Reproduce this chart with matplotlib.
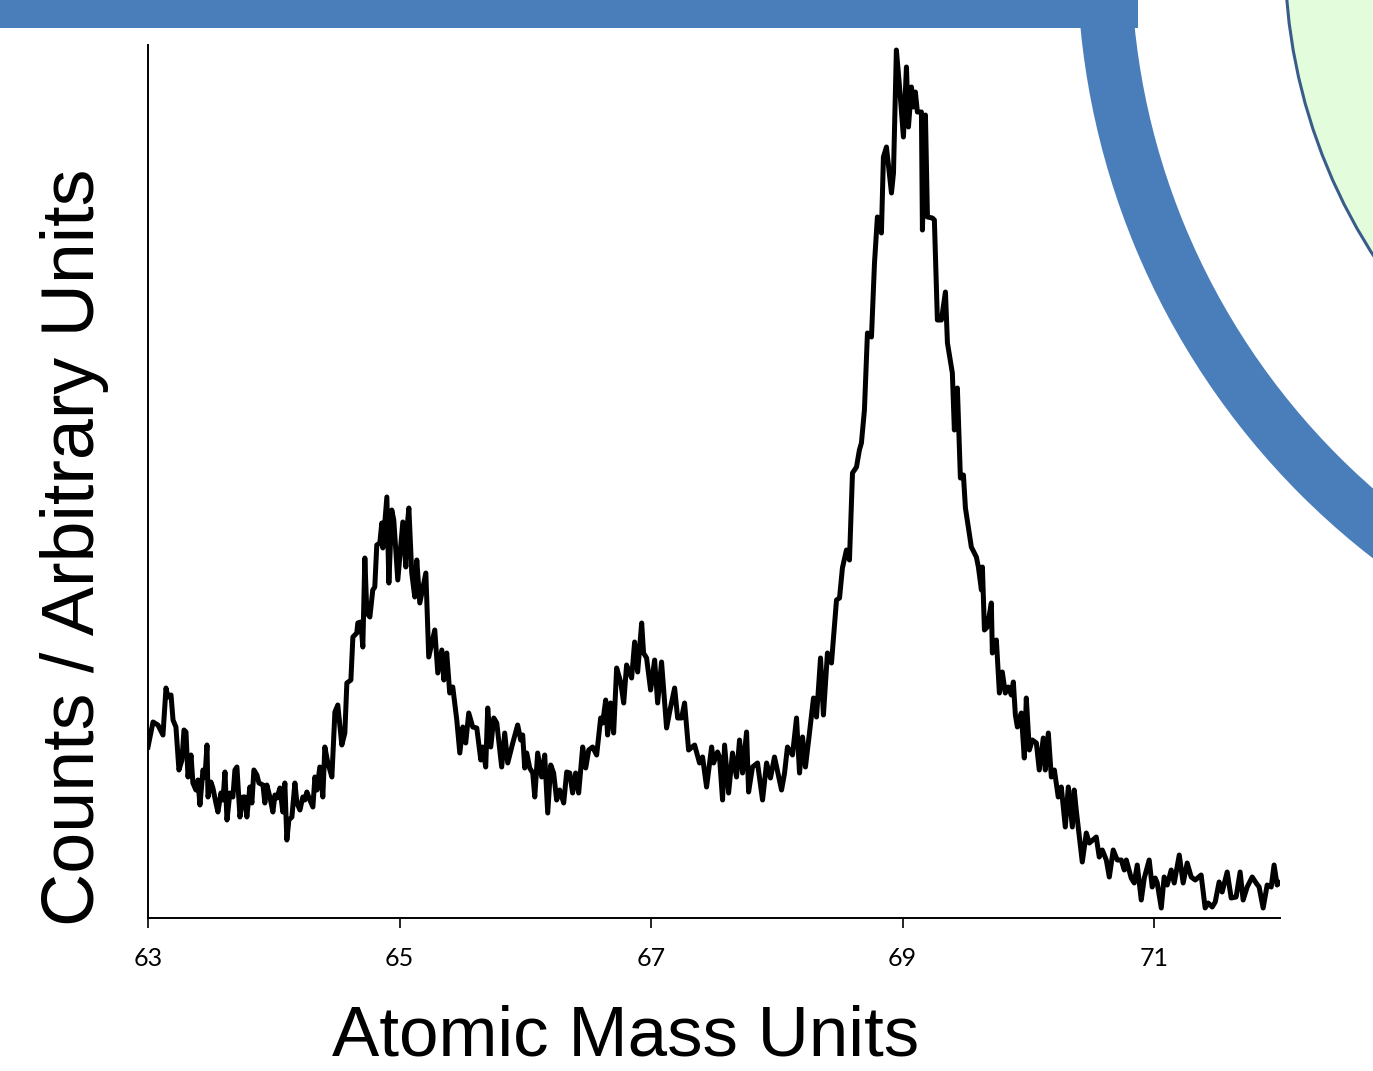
"""
Mass spectrum slide: counts vs atomic mass units, with the slide's blue
banner / arc decoration drawn behind the plot.
"""

import matplotlib

matplotlib.use("Agg")
import matplotlib.pyplot as plt
from matplotlib import patches


FIG_W, FIG_H = 1373, 1071
DPI = 100

# spectrum (x in amu, y in arbitrary counts)
AMU = [
    63.000, 63.040, 63.079, 63.119, 63.143, 63.159, 63.183, 63.199, 63.222, 63.246,
    63.270, 63.286, 63.302, 63.318, 63.342, 63.357, 63.381, 63.397, 63.413, 63.437,
    63.453, 63.469, 63.477, 63.500, 63.516, 63.540, 63.556, 63.580, 63.596, 63.612,
    63.628, 63.651, 63.675, 63.691, 63.707, 63.731, 63.755, 63.771, 63.786, 63.810,
    63.826, 63.842, 63.866, 63.882, 63.914, 63.929, 63.945, 63.969, 63.993, 64.009,
    64.025, 64.049, 64.072, 64.088, 64.104, 64.120, 64.144, 64.168, 64.184, 64.208,
    64.231, 64.247, 64.263, 64.287, 64.311, 64.327, 64.343, 64.366, 64.390, 64.406,
    64.430, 64.462, 64.486, 64.509,
    64.541, 64.565, 64.581, 64.613, 64.629, 64.660, 64.668, 64.692, 64.708, 64.724,
    64.740, 64.764, 64.787, 64.803, 64.819, 64.843, 64.859, 64.867, 64.899, 64.915,
    64.938, 64.954, 64.986, 65.026, 65.050, 65.058, 65.074, 65.097, 65.121, 65.137,
    65.161, 65.177, 65.209, 65.232, 65.280, 65.304, 65.336, 65.352, 65.375, 65.399,
    65.423, 65.455, 65.479, 65.503, 65.526, 65.550, 65.582, 65.614, 65.646, 65.661,
    65.685, 65.701, 65.725, 65.749, 65.773, 65.812, 65.836, 65.860, 65.900, 65.939,
    65.963, 65.979, 65.995, 66.011, 66.035, 66.059, 66.075, 66.098, 66.130, 66.154,
    66.178, 66.202, 66.225, 66.249, 66.273, 66.305, 66.329, 66.353, 66.376, 66.400,
    66.424, 66.456, 66.480, 66.504, 66.535, 66.567, 66.599, 66.615, 66.639, 66.654,
    66.678, 66.702, 66.726, 66.758, 66.782, 66.805, 66.845, 66.869, 66.893, 66.925,
    66.940, 66.964, 66.996, 67.028, 67.052, 67.083, 67.123, 67.147, 67.187, 67.211,
    67.242, 67.266, 67.298, 67.346,
    67.385, 67.409, 67.441, 67.481, 67.497, 67.528, 67.544, 67.568, 67.584, 67.616,
    67.647, 67.679, 67.703, 67.727, 67.759, 67.775, 67.806, 67.846, 67.886, 67.918,
    67.949, 67.981, 68.037, 68.061, 68.084, 68.124, 68.156, 68.180, 68.204, 68.227,
    68.259, 68.291, 68.315, 68.347, 68.370, 68.402, 68.434,
    68.474, 68.498, 68.521, 68.553, 68.577, 68.601, 68.633, 68.656, 68.672, 68.696,
    68.720, 68.752, 68.776, 68.799, 68.831, 68.847, 68.871, 68.911, 68.927, 68.950,
    68.974, 69.006, 69.030, 69.046, 69.070, 69.085, 69.101, 69.117, 69.149, 69.157,
    69.181, 69.197, 69.236, 69.252, 69.276, 69.308, 69.340, 69.356, 69.395, 69.411,
    69.435, 69.459, 69.483, 69.499, 69.546, 69.586, 69.602, 69.626, 69.634, 69.650,
    69.673, 69.705, 69.713, 69.745,
    69.769, 69.792, 69.816, 69.840, 69.864, 69.880, 69.896, 69.912, 69.943, 69.967,
    69.983, 70.007, 70.031, 70.063, 70.086, 70.118, 70.134, 70.158, 70.182, 70.206,
    70.237, 70.261, 70.293, 70.317, 70.349, 70.364, 70.380, 70.428, 70.460,
    70.484, 70.539, 70.563, 70.587, 70.619, 70.643, 70.674, 70.706, 70.738, 70.762,
    70.778, 70.817, 70.841, 70.865, 70.897, 70.921, 70.960, 70.984, 71.008, 71.024,
    71.056, 71.079, 71.103, 71.135, 71.159, 71.199, 71.230, 71.262, 71.294, 71.326,
    71.373, 71.405, 71.429, 71.461, 71.485, 71.516, 71.540, 71.580, 71.612, 71.651,
    71.683, 71.707, 71.739, 71.779, 71.810, 71.834, 71.866, 71.898, 71.930, 71.953,
    71.977, 71.993,
]

COUNTS = [
    17.1, 19.6, 19.3, 18.3, 23.0, 22.1, 22.3, 19.8, 19.1, 14.8,
    15.8, 18.8, 18.6, 14.1, 16.3, 13.5, 12.8, 13.8, 11.3, 14.8,
    14.1, 17.3, 12.1, 13.6, 13.0, 11.5, 10.6, 12.5, 11.8, 14.6,
    9.8, 12.5, 12.1, 14.8, 15.1, 10.1, 12.1, 12.1, 10.1, 13.1,
    11.5, 14.8, 14.3, 13.5, 13.3, 11.5, 13.3, 12.1, 10.6, 12.3,
    12.0, 13.0, 10.6, 13.5, 7.8, 9.8, 10.1, 13.5, 11.5, 10.8,
    12.1, 11.8, 12.6, 11.8, 11.1, 14.1, 12.8, 15.1, 12.1, 17.1,
    15.5, 14.1, 20.6, 21.3,
    17.3, 18.5, 23.5, 23.8, 28.1, 28.5, 29.5, 29.6, 27.1, 36.0,
    30.5, 30.1, 32.8, 33.1, 37.3, 37.5, 39.5, 37.0, 42.1, 33.5,
    40.8, 39.8, 33.8, 39.6, 35.1, 38.8, 41.0, 34.5, 32.1, 35.8,
    31.5, 32.5, 34.5, 26.1, 28.8, 24.5, 26.8, 23.8, 26.5, 22.5,
    23.1, 19.8, 16.5, 19.1, 17.5, 20.5, 19.1, 19.0, 15.8, 17.1,
    15.1, 21.0, 17.1, 20.0, 19.5, 15.1, 18.5, 15.5, 17.5, 19.3,
    17.8, 18.3, 15.0, 16.5, 15.0, 14.5, 12.1, 16.5, 14.1, 16.3,
    10.5, 15.3, 14.5, 11.8, 12.8, 11.5, 14.6, 14.5, 12.5, 14.5,
    12.5, 17.1, 15.0, 16.8, 17.1, 16.3, 20.0, 19.5, 21.8, 18.3,
    21.5, 18.5, 25.0, 23.6, 21.5, 25.3, 24.0, 27.6, 24.6, 29.5,
    26.5, 26.0, 22.8, 25.8, 21.5, 25.6, 19.0, 20.6, 23.0, 20.0,
    20.0, 21.5, 16.8, 17.3,
    15.5, 16.1, 13.1, 17.1, 15.5, 16.6, 16.1, 11.8, 17.3, 12.5,
    16.5, 14.1, 17.8, 14.5, 18.6, 12.6, 15.1, 15.5, 11.8, 15.5,
    14.0, 16.1, 12.8, 14.5, 17.1, 16.3, 20.0, 14.5, 18.1, 15.1,
    18.5, 22.0, 20.1, 26.0, 20.3, 26.5, 25.5,
    31.8, 32.0, 35.0, 36.8, 35.8, 44.5, 45.1, 46.8, 47.5, 50.8,
    58.5, 58.1, 65.5, 70.1, 68.5, 76.1, 77.1, 72.5, 74.5, 86.8,
    83.3, 78.1, 85.1, 79.1, 83.1, 81.1, 82.6, 80.6, 80.6, 68.8,
    80.3, 70.1, 70.0, 69.8, 59.8, 59.8, 62.6, 57.5, 54.5, 48.8,
    53.0, 44.0, 44.3, 41.0, 37.1, 36.1, 35.1, 32.8, 35.1, 28.8,
    29.1, 31.5, 26.5, 27.8,
    22.5, 24.6, 22.5, 23.1, 22.3, 23.6, 20.3, 19.1, 20.5, 16.0,
    22.0, 16.8, 17.8, 17.5, 14.8, 18.0, 14.8, 18.5, 14.1, 14.8,
    12.1, 13.1, 9.1, 13.1, 9.1, 12.8, 10.8, 5.6, 8.5,
    7.5, 8.1, 6.1, 6.8, 5.8, 4.1, 6.8, 5.8, 5.8, 4.8,
    5.8, 4.0, 3.5, 5.3, 1.8, 4.0, 5.8, 3.1, 4.0, 3.5,
    1.0, 4.1, 3.3, 4.8, 3.5, 6.3, 3.5, 5.5, 4.1, 3.8,
    4.3, 1.0, 1.5, 1.1, 1.6, 3.6, 2.6, 4.6, 2.0, 2.1,
    4.6, 1.8, 3.1, 4.1, 3.5, 3.1, 1.0, 3.3, 3.1, 5.3,
    3.3, 3.5,
]

XTICKS = [63, 65, 67, 69, 71]
XTICK_LABELS = ["63", "65", "67", "69", "71"]
X_LABEL = "Atomic Mass Units"
Y_LABEL = "Counts / Arbitrary Units"

BANNER_BLUE = "#4A7EBB"
OUTLINE_BLUE = "#385D8A"
PALE_GREEN = "#E3FCDB"


def draw_decoration(fig: plt.Figure) -> None:
    # background layer in pixel units (y grows downward like the slide)
    bg = fig.add_axes([0, 0, 1, 1], zorder=0)
    bg.set_xlim(0, FIG_W)
    bg.set_ylim(FIG_H, 0)
    bg.axis("off")

    centre = (1840, -45)
    bg.add_patch(patches.Circle(centre, 555, facecolor=PALE_GREEN,
                                edgecolor=OUTLINE_BLUE, linewidth=2.2))
    bg.add_patch(patches.Wedge(centre, 763, 0, 360, width=54,
                               facecolor=BANNER_BLUE, edgecolor="none"))
    bg.add_patch(patches.Rectangle((0, 0), 1138, 28,
                                   facecolor=BANNER_BLUE, edgecolor="none"))


def build_figure() -> plt.Figure:
    fig = plt.figure(figsize=(FIG_W / DPI, FIG_H / DPI), dpi=DPI)
    draw_decoration(fig)

    left, right, top, bottom = 148, 1280, 45, 918
    ax = fig.add_axes(
        [left / FIG_W, 1 - bottom / FIG_H, (right - left) / FIG_W, (bottom - top) / FIG_H],
        zorder=1,
    )
    ax.set_facecolor("none")

    ax.plot(AMU, COUNTS, color="black", linewidth=3.6, solid_joinstyle="round")

    ax.set_xlim(63, 72)
    ax.set_ylim(0, 87.3)
    ax.set_xticks(XTICKS)
    ax.set_xticklabels(XTICK_LABELS, fontsize=18, family="Lato")
    ax.set_yticks([])
    ax.tick_params(axis="x", direction="out", length=7, width=1.2, pad=14)

    for side in ("top", "right"):
        ax.spines[side].set_visible(False)
    for side in ("left", "bottom"):
        ax.spines[side].set_linewidth(1.4)

    fig.text(626 / FIG_W, 1 - 1056 / FIG_H, X_LABEL, fontsize=51,
             family="Liberation Sans", ha="center", va="baseline")
    fig.text(75 / FIG_W, 1 - 547 / FIG_H, Y_LABEL, fontsize=53,
             family="Liberation Sans", rotation=90, ha="center", va="center")
    return fig


def main() -> None:
    fig = build_figure()
    fig.savefig("out.png", dpi=DPI)
    plt.close(fig)


if __name__ == "__main__":
    main()
